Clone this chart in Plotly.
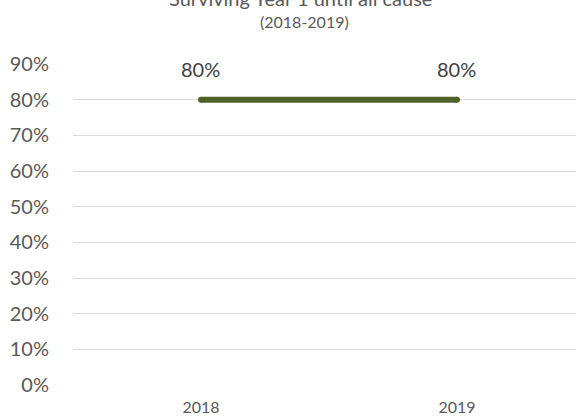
import plotly.graph_objects as go

years = ["2018", "2019"]
values = [0.80, 0.80]
labels = ["80%", "80%"]
y_ticks = [0, 0.1, 0.2, 0.3, 0.4, 0.5, 0.6, 0.7, 0.8, 0.9]
y_tick_text = ["0%", "10%", "20%", "30%", "40%", "50%", "60%", "70%", "80%", "90%"]
title_text = "Surviving Year 1 until all cause"
subtitle_text = "(2018-2019)"

W, H = 576, 417
ML, MR, MT, MB = 73, 0, 64, 32
PW, PH = W - ML - MR, H - MT - MB


def px_x(px):
    return (px - ML) / PW


def px_y(py):
    return (H - MB - py) / PH


fig = go.Figure()
fig.add_trace(go.Scatter(
    x=years, y=values, mode="lines+markers",
    line=dict(color="#4f6228", width=6),
    marker=dict(size=6, color="#4f6228", line=dict(width=0)),
    cliponaxis=False, showlegend=False, hoverinfo="skip",
))

annotations = [
    dict(x=i, y=v, xref="x", yref="y", text=t, showarrow=False,
         xanchor="center", yanchor="middle", yshift=31,
         font=dict(size=20, color="#404040"))
    for i, (v, t) in enumerate(zip(values, labels))
]
annotations += [
    dict(text=title_text, x=px_x(300), xref="paper", y=px_y(-2), yref="paper",
         xanchor="center", yanchor="middle", showarrow=False,
         font=dict(size=20, color="#595959")),
    dict(text=subtitle_text, x=px_x(304), xref="paper", y=px_y(21), yref="paper",
         xanchor="center", yanchor="middle", showarrow=False,
         font=dict(size=16, color="#595959")),
]

fig.update_layout(
    width=W, height=H,
    margin=dict(l=ML, r=MR, t=MT, b=MB, pad=0, autoexpand=False),
    paper_bgcolor="white", plot_bgcolor="white",
    font=dict(family="Lato, Liberation Sans, sans-serif", color="#595959"),
    xaxis=dict(type="category", range=[-0.5, 1.465],
               showgrid=False, zeroline=False, showline=False,
               tickfont=dict(size=16, color="#595959"), ticks="",
               ticklabelstandoff=11, automargin=False),
    yaxis=dict(range=[0, 0.9], tickvals=y_ticks, ticktext=y_tick_text,
               showgrid=True, gridcolor="#d9d9d9", gridwidth=1, zeroline=False,
               tickfont=dict(size=20, color="#595959"), ticks="",
               ticklabelstandoff=23, automargin=False),
    annotations=annotations,
)
fig.write_html("out.html", config={"displayModeBar": False},
               post_script="document.body.style.margin='0';document.body.style.overflow='hidden';")
